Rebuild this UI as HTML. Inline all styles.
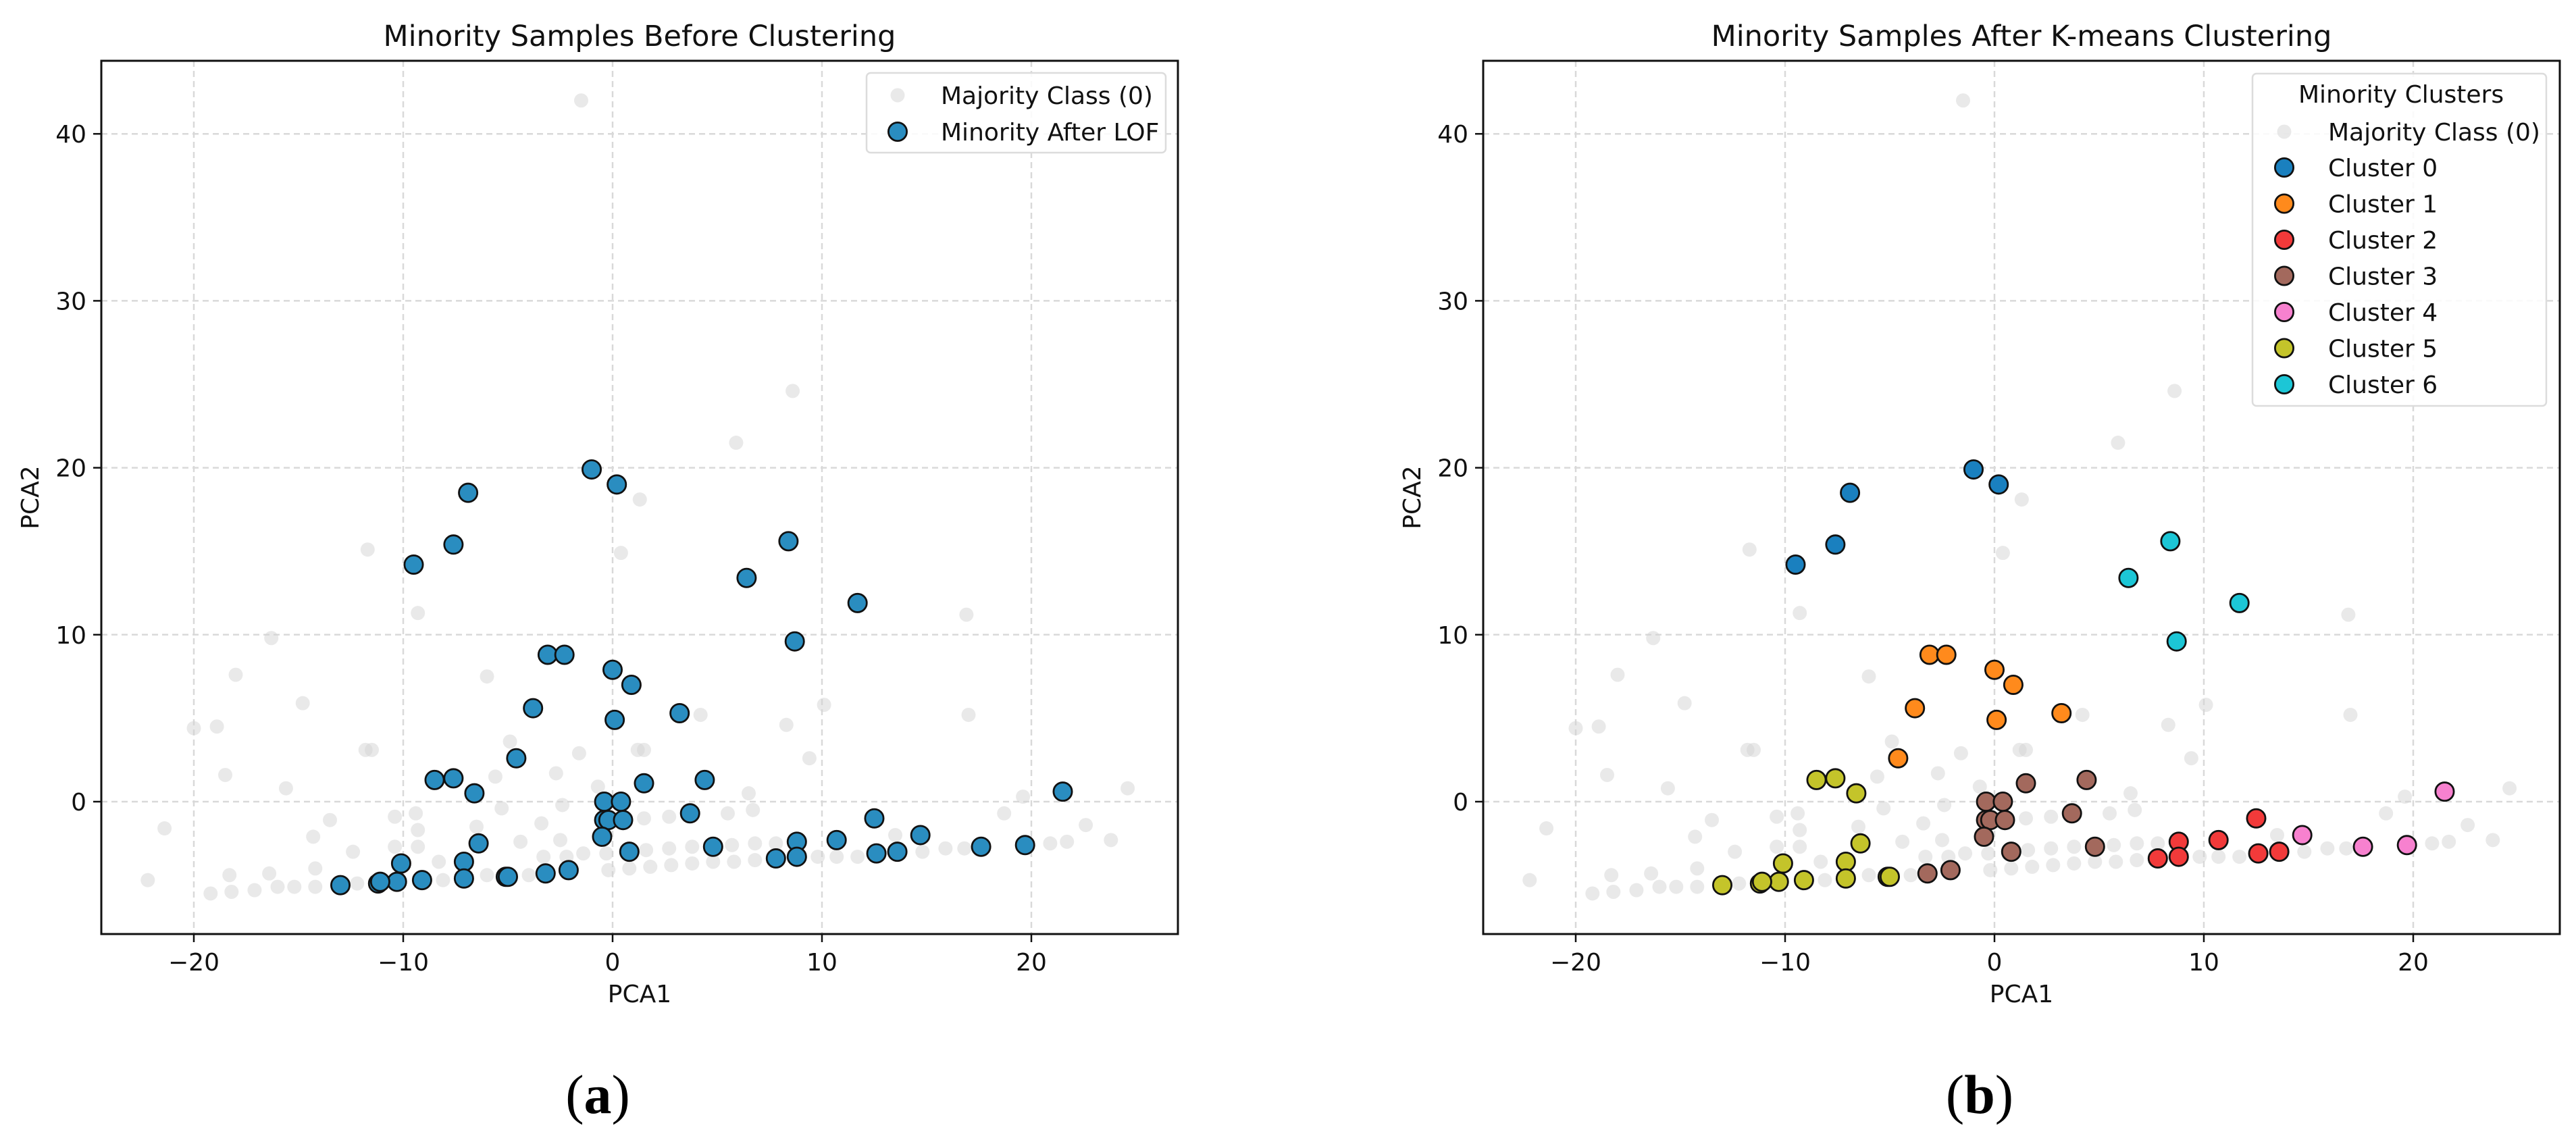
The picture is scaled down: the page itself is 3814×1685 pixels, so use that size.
<!DOCTYPE html>
<html><head><meta charset="utf-8"><style>
html,body{margin:0;padding:0;background:#fff;}
svg{display:block;font-family:"DejaVu Sans","Liberation Sans",sans-serif;}
</style></head><body>
<svg id="fig" width="3814" height="1685" viewBox="0 0 3814 1685" xmlns="http://www.w3.org/2000/svg"></svg>
<script>
const xTicks = [-20, -10, 0, 10, 20];
const yTicks = [0, 10, 20, 30, 40];
const majX = [-1.5,8.6,5.9,1.3,-11.7,0.4,-9.3,16.9,-16.3,-18.0,-6.0,-14.8,10.1,4.2,17.0,8.3,-20.0,-18.9,-4.9,-11.8,-11.5,1.2,1.5,-1.6,9.4,-18.5,-5.6,-2.7,-15.6,-0.7,6.5,19.6,24.6,-5.3,-2.4,6.7,5.5,18.7,-10.4,-9.4,-13.5,-3.4,1.5,2.7,-21.4,-9.3,-6.5,22.6,-14.3,-4.4,-2.5,21.7,23.8,13.5,-9.3,-10.4,-12.4,-1.4,-0.3,1.6,2.7,3.8,5.7,6.8,7.8,15.9,16.8,20.9,10.7,11.7,14.8,-3.3,-2.2,9.8,-8.3,-14.2,-16.4,-18.3,-22.2,-6.0,-4.0,-0.2,0.8,1.8,2.8,3.8,4.8,5.8,6.8,-8.1,-12.2,-14.2,-15.2,-16.0,-17.1,-18.2,-19.2];
const majY = [42,24.6,21.5,18.1,15.1,14.9,11.3,11.2,9.8,7.6,7.5,5.9,5.8,5.2,5.2,4.6,4.4,4.5,3.6,3.1,3.1,3.1,3.1,2.9,2.6,1.6,1.5,1.7,0.8,0.9,0.5,0.3,0.8,-0.4,-0.2,-0.5,-0.7,-0.7,-0.9,-0.7,-1.1,-1.3,-1.0,-0.9,-1.6,-1.7,-1.5,-1.4,-2.1,-2.4,-2.3,-2.4,-2.3,-2.0,-2.7,-2.7,-3.0,-3.1,-3.1,-2.9,-2.8,-2.7,-2.6,-2.5,-2.5,-2.8,-2.8,-2.5,-3.3,-3.3,-3.0,-3.3,-3.3,-3.3,-3.6,-4.0,-4.3,-4.4,-4.7,-4.4,-4.4,-4.1,-4.0,-3.9,-3.8,-3.7,-3.6,-3.6,-3.5,-4.7,-4.9,-5.1,-5.1,-5.1,-5.3,-5.4,-5.5];
const minX = [-1.0,0.2,-6.9,-7.6,-9.5,8.4,6.4,11.7,8.7,-3.1,-2.3,0,0.9,-3.8,3.2,0.1,-4.6,-8.5,-7.6,-6.6,1.5,4.4,21.5,-0.4,0.4,-0.4,-0.2,0.5,-0.5,3.7,12.5,14.7,-6.4,0.8,4.8,8.8,10.7,17.6,19.7,7.8,8.8,12.6,13.6,-10.1,-7.1,-7.1,-9.1,-10.3,-11.2,-11.1,-13.0,-5.1,-5.0,-3.2,-2.1];
const minY = [19.9,19.0,18.5,15.4,14.2,15.6,13.4,11.9,9.6,8.8,8.8,7.9,7.0,5.6,5.3,4.9,2.6,1.3,1.4,0.5,1.1,1.3,0.6,0,0,-1.1,-1.1,-1.1,-2.1,-0.7,-1.0,-2.0,-2.5,-3.0,-2.7,-2.4,-2.3,-2.7,-2.6,-3.4,-3.3,-3.1,-3.0,-3.7,-3.6,-4.6,-4.7,-4.8,-4.9,-4.8,-5.0,-4.5,-4.5,-4.3,-4.1];
const minCluster = [0,0,0,0,0,6,6,6,6,1,1,1,1,1,1,1,1,5,5,5,3,3,4,3,3,3,3,3,3,3,2,4,5,3,3,2,2,4,4,2,2,2,2,5,5,5,5,5,5,5,5,5,5,3,3];
const clusterLabels = ["Cluster 0","Cluster 1","Cluster 2","Cluster 3","Cluster 4","Cluster 5","Cluster 6"];
const clusterColors = ["#1a80bf","#ff8a1c","#f23a3a","#a3695d","#f781cf","#c4c42a","#1cc6d6"];

const NS = "http://www.w3.org/2000/svg";
const svg = document.getElementById('fig');
function mk(tag, attrs, parent, text){
  const e = document.createElementNS(NS, tag);
  for (const k in attrs) e.setAttribute(k, attrs[k]);
  if (text !== undefined) e.textContent = text;
  (parent || svg).appendChild(e);
  return e;
}
const X0 = 907, XS = 31, Y0 = 1187, YS = 24.72;
const AX_L = 150, AX_R = 1744, AX_T = 90, AX_B = 1383;

function panel(off, title, which){
  const g = mk('g', {transform:'translate(' + off + ',0)'});
  
  
  const sx = v => X0 + v * XS;
  const sy = v => Y0 - v * YS;
  xTicks.forEach(t => {
    const l = mk('line', {x1:sx(t), x2:sx(t), y1:AX_T, y2:AX_B, stroke:'#d9d9d9', 'stroke-width':2.5, 'stroke-dasharray':'9,6'}, g);
    
    
  });
  yTicks.forEach(t => {
    const l = mk('line', {x1:AX_L, x2:AX_R, y1:sy(t), y2:sy(t), stroke:'#d9d9d9', 'stroke-width':2.5, 'stroke-dasharray':'9,6'}, g);
    
    
  });
  majX.forEach((v, i) => {
    const c = mk('circle', {cx:sx(v), cy:sy(majY[i]), r:10.5, fill:'#d3d3d3', 'fill-opacity':0.5}, g);
    
    
  });
  minX.forEach((v, i) => {
    const col = which === 'a' ? '#2a8dc0' : clusterColors[minCluster[i]];
    const c = mk('circle', {cx:sx(v), cy:sy(minY[i]), r:13.6, fill:col, stroke:'#111', 'stroke-width':2.8}, g);
    
    
  });
  const f = mk('rect', {x:AX_L, y:AX_T, width:AX_R-AX_L, height:AX_B-AX_T, fill:'none', stroke:'#111', 'stroke-width':3}, g);
  
  
  xTicks.forEach(t => {
    mk('line', {x1:sx(t), x2:sx(t), y1:AX_B, y2:AX_B+12, stroke:'#111', 'stroke-width':2.5}, g);
    const tx = mk('text', {x:sx(t), y:AX_B+54, 'font-size':36, 'text-anchor':'middle', fill:'#111'}, g, t < 0 ? '\u2212' + (-t) : String(t));
    
    
  });
  yTicks.forEach(t => {
    mk('line', {x1:AX_L-12, x2:AX_L, y1:sy(t), y2:sy(t), stroke:'#111', 'stroke-width':2.5}, g);
    const tx = mk('text', {x:AX_L-22, y:sy(t)+13, 'font-size':36, 'text-anchor':'end', fill:'#111'}, g, String(t));
    
    
  });
  const xt = mk('text', {x:(AX_L+AX_R)/2, y:1484, 'font-size':36, 'text-anchor':'middle', fill:'#111'}, g, 'PCA1');
  
  
  const yt = mk('text', {x:0, y:0, 'font-size':36, 'text-anchor':'middle', fill:'#111', transform:'translate(57,' + ((AX_T+AX_B)/2) + ') rotate(-90)'}, g, 'PCA2');
  
  
  const tt = mk('text', {x:(AX_L+AX_R)/2, y:68, 'font-size':43, 'text-anchor':'middle', fill:'#111'}, g, title);
  
  
  const pl = mk('text', {x:885, y:1648, 'font-size':82, 'text-anchor':'middle', fill:'#000', 'font-family':'"Liberation Serif", serif'}, g);
  
  
  mk('tspan', {'font-weight':'normal'}, pl, '(');
  mk('tspan', {'font-weight':'bold'}, pl, which);
  mk('tspan', {'font-weight':'normal'}, pl, ')');
  return g;
}

const gA = panel(0, 'Minority Samples Before Clustering', 'a');
const gB = panel(2046, 'Minority Samples After K-means Clustering', 'b');

const lgA = mk('g', {}, gA);


mk('rect', {x:1283, y:108, width:443, height:118, rx:6, fill:'#fff', 'fill-opacity':0.85, stroke:'#dcdcdc', 'stroke-width':2.5}, lgA);
mk('circle', {cx:1329, cy:141, r:10.5, fill:'#d3d3d3', 'fill-opacity':0.5}, lgA);
const la1 = mk('text', {x:1393, y:154, 'font-size':36, fill:'#111'}, lgA, 'Majority Class (0)');


mk('circle', {cx:1329, cy:195, r:13.6, fill:'#2a8dc0', stroke:'#111', 'stroke-width':2.8}, lgA);
const la2 = mk('text', {x:1393, y:208, 'font-size':36, fill:'#111'}, lgA, 'Minority After LOF');



const lgB = mk('g', {}, gB);


const LB = 3335 - 2046;
mk('rect', {x:LB, y:109, width:435, height:492, rx:6, fill:'#fff', 'fill-opacity':0.85, stroke:'#dcdcdc', 'stroke-width':2.5}, lgB);
const lt = mk('text', {x:3403-2046, y:152, 'font-size':36, fill:'#111'}, lgB, 'Minority Clusters');


mk('circle', {cx:3382-2046, cy:195, r:10.5, fill:'#d3d3d3', 'fill-opacity':0.5}, lgB);
const lm = mk('text', {x:3447-2046, y:208, 'font-size':36, fill:'#111'}, lgB, 'Majority Class (0)');


clusterLabels.forEach((lab, i) => {
  const cy = 248 + i * 53.5;
  mk('circle', {cx:3382-2046, cy:cy, r:13.6, fill:clusterColors[i], stroke:'#111', 'stroke-width':2.8}, lgB);
  const t = mk('text', {x:3447-2046, y:cy+13, 'font-size':36, fill:'#111'}, lgB, lab);
  
  
});
</script>
</body></html>
